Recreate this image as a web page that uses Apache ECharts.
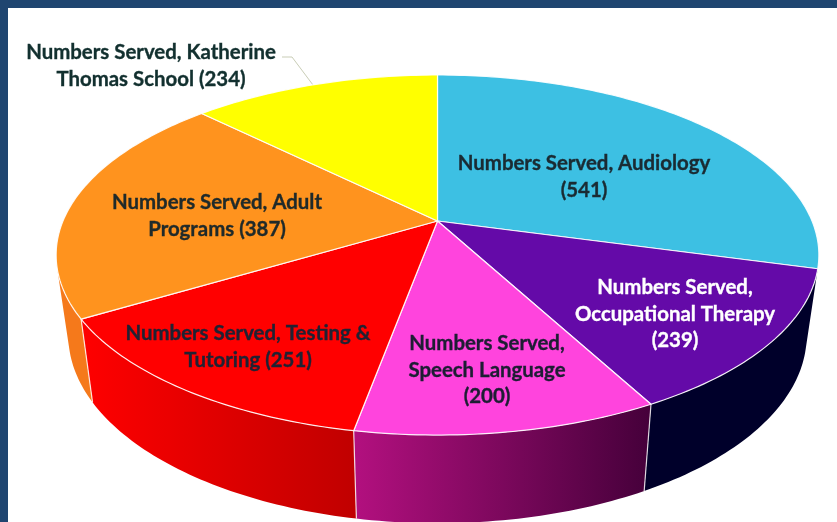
<!DOCTYPE html>
<html>
<head>
<meta charset="utf-8">
<style>
  html, body { margin: 0; padding: 0; background: #fff; }
  #main { width: 837px; height: 522px; }
</style>
<script src="https://cdn.jsdelivr.net/npm/echarts@6/dist/echarts.min.js"></script>
</head>
<body>
<div id="main"></div>
<script>
// data
const categories = ['Audiology', 'Occupational Therapy', 'Speech Language', 'Testing & Tutoring', 'Adult Programs', 'Katherine Thomas School'];
const values = [541, 239, 200, 251, 387, 234];
const labelLines = [
  ['Numbers Served, Audiology', '(541)'],
  ['Numbers Served,', 'Occupational Therapy', '(239)'],
  ['Numbers Served,', 'Speech Language', '(200)'],
  ['Numbers Served, Testing &', 'Tutoring (251)'],
  ['Numbers Served, Adult', 'Programs (387)'],
  ['Numbers Served, Katherine', 'Thomas School (234)']
];
const topColors = ['#3dc0e3', '#640aa8', '#ff44dd', '#ff0000', '#ff931e', '#ffff00'];
// wall colours, left to right
const wallColors = [null, ['#00002a', '#00002a'], ['#b3107f', '#45003a'], ['#ff0000', '#c00000'], ['#f5791b', '#f5791b'], null];

// layout of the tilted pie
const cx = 437.5;
const top3d = { cy: 221, a: 173.6, b: 374.5 };  // top face
const bottom3d = { cy: 300, a: 181, b: 362.5 }; // bottom rim
const tilt = 0.189;
const wallFrom = 15;   // visible wall runs between these angles
const wallTo = 165;
const labelCenters = [[584, 177], [675, 314], [487, 370], [248, 347], [217, 216], [151, 66]];
const labelColors = ['#1a2b33', '#ffffff', '#1d1d33', '#1f2233', '#1f2a2a', '#12302f'];

const total = values.reduce((s, v) => s + v, 0);
let running = 0;
const seriesData = values.map(function (v, i) {
  const start = running;
  running += v;
  return { name: categories[i], value: [start, running] };
});

function toAngle(v) {
  return -90 + v / total * 360;
}

// project an angle on the circle with a simple perspective
function rim(deg, face) {
  const t = deg * Math.PI / 180;
  const d = 1 - tilt * Math.sin(t);
  return [cx + face.b * Math.cos(t) / d, face.cy + face.a * Math.sin(t) / d];
}

function arc(from, to, face) {
  const pts = [];
  const n = Math.max(2, Math.ceil(Math.abs(to - from)));
  for (let i = 0; i <= n; i++) {
    pts.push(rim(from + (to - from) * i / n, face));
  }
  return pts;
}

function renderWall(params, api) {
  const colors = wallColors[params.dataIndex];
  const from = Math.max(toAngle(api.value(0)), wallFrom);
  const to = Math.min(toAngle(api.value(1)), wallTo);
  if (!colors || from >= to) {
    return { type: 'group', children: [] };
  }
  const points = arc(from, to, top3d).concat(arc(to, from, bottom3d));
  const children = [{
    type: 'polygon',
    shape: { points: points },
    style: {
      fill: new echarts.graphic.LinearGradient(0, 0, 1, 0, [
        { offset: 0, color: colors[0] },
        { offset: 1, color: colors[1] }
      ])
    }
  }];
  // thin light seam on the left side of the next wall
  if (to < wallTo) {
    const p1 = rim(to, top3d);
    const p2 = rim(to, bottom3d);
    children.push({
      type: 'line',
      z2: 5,
      shape: { x1: p1[0], y1: p1[1], x2: p2[0], y2: p2[1] },
      style: { stroke: 'rgba(255,255,255,0.8)', lineWidth: 1.2 }
    });
  }
  return { type: 'group', children: children };
}

function renderTop(params, api) {
  const from = toAngle(api.value(0));
  const to = toAngle(api.value(1));
  const points = [[cx, top3d.cy]].concat(arc(from, to, top3d));
  return {
    type: 'polygon',
    shape: { points: points },
    style: {
      fill: topColors[params.dataIndex],
      stroke: 'rgba(255,255,255,0.9)',
      lineWidth: 1.2,
      lineJoin: 'round'
    }
  };
}

function renderLabel(params) {
  const i = params.dataIndex;
  return {
    type: 'text',
    x: labelCenters[i][0],
    y: labelCenters[i][1],
    style: {
      text: labelLines[i].join('\n'),
      fill: labelColors[i],
      stroke: labelColors[i],
      lineWidth: 0.35,
      font: 'bold 20.4px Lato',
      lineHeight: 26.5,
      align: 'center',
      verticalAlign: 'middle'
    }
  };
}

const myChart = echarts.init(document.getElementById('main'), null, { renderer: 'canvas' });

const option = {
  animation: false,
  backgroundColor: '#ffffff',
  graphic: [
    // slide frame
    { type: 'rect', shape: { x: 0, y: 0, width: 837, height: 8 }, style: { fill: '#1f4570' } },
    { type: 'rect', shape: { x: 0, y: 0, width: 8, height: 522 }, style: { fill: '#1f4570' } },
    // leader line of the last slice
    { type: 'polyline', shape: { points: [[282, 57], [292, 57], [313, 85]] }, style: { stroke: '#c9cdb6', fill: null, lineWidth: 1 } }
  ],
  series: [
    { type: 'custom', coordinateSystem: 'none', silent: true, data: seriesData, renderItem: renderWall },
    { type: 'custom', coordinateSystem: 'none', silent: true, data: seriesData, renderItem: renderTop },
    { type: 'custom', coordinateSystem: 'none', silent: true, data: seriesData, renderItem: renderLabel }
  ]
};

myChart.setOption(option);
</script>
</body>
</html>
